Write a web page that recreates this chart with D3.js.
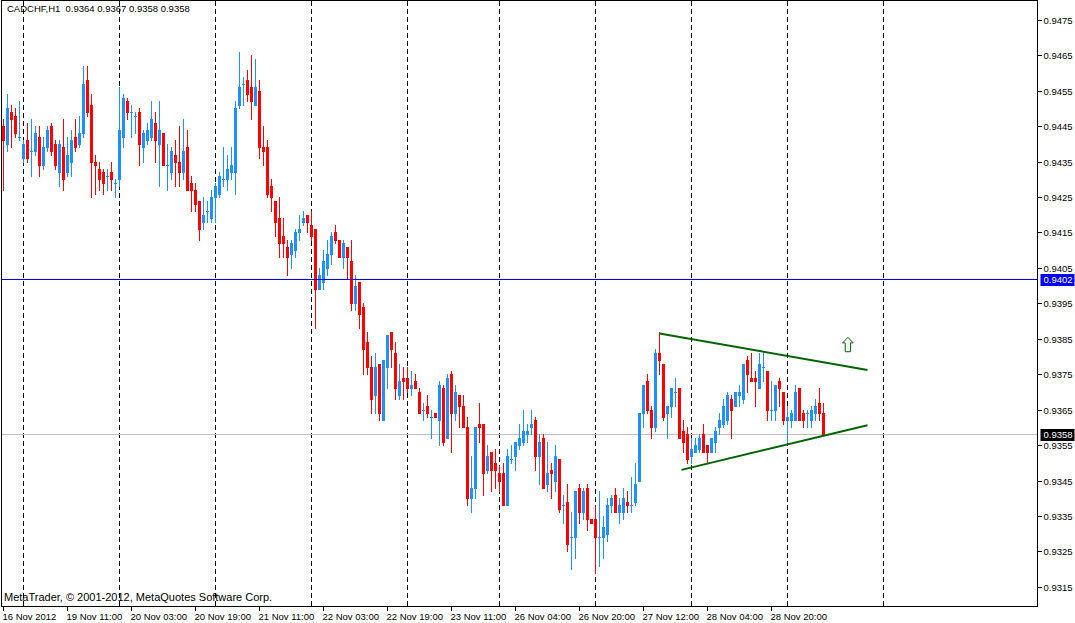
<!DOCTYPE html>
<html>
<head>
<meta charset="utf-8">
<script src="https://cdn.jsdelivr.net/npm/d3@7"></script>
<style>
  html, body { margin: 0; padding: 0; background: #fff; }
  svg { display: block; }
</style>
</head>
<body>
<svg id="chart" width="1075" height="623"></svg>
<script>
// Chart texts
const symbolTitle = "CADCHF,H1  0.9364 0.9367 0.9358 0.9358";
const copyright = "MetaTrader, \u00A9 2001-2012, MetaQuotes Software Corp.";

// Hourly bars (bar 0 = 16 Nov 2012 18:00)
const opens = [
  0.9445,0.9440,0.9449,0.9448,0.9442,0.9436,0.9441,0.9438,0.9438,0.9442,
  0.9434,0.9439,0.9445,0.9440,0.9432,0.9439,0.9432,0.9435,0.9442,0.9440,
  0.9443,0.9458,0.9451,0.9435,0.9433,0.9432,0.9431,0.9432,0.9429,0.9430,
  0.9442,0.9452,0.9449,0.9448,0.9449,0.9439,0.9441,0.9442,0.9446,0.9440,
  0.9443,0.9434,0.9432,0.9437,0.9435,0.9432,0.9439,0.9429,0.9427,0.9424,
  0.9418,0.9421,0.9419,0.9425,0.9426,0.9430,0.9430,0.9432,0.9432,0.9451,
  0.9457,0.9458,0.9456,0.9451,0.9455,0.9439,0.9439,0.9428,0.9424,0.9419,
  0.9414,0.9411,0.9409,0.9410,0.9415,0.9418,0.9420,0.9417,0.9416,0.9399,
  0.9401,0.9405,0.9409,0.9415,0.9413,0.9408,0.9411,0.9407,0.9395,0.9401,
  0.9394,0.9384,0.9377,0.9369,0.9378,0.9362,0.9377,0.9387,0.9381,0.9369,
  0.9374,0.9374,0.9371,0.9373,0.9370,0.9365,0.9366,0.9363,0.9364,0.9362,
  0.9371,0.9357,0.9375,0.9364,0.9369,0.9366,0.9360,0.9340,0.9343,0.9361,
  0.9361,0.9348,0.9353,0.9350,0.9347,0.9347,0.9338,0.9351,0.9352,0.9355,
  0.9356,0.9358,0.9360,0.9362,0.9352,0.9357,0.9344,0.9348,0.9345,0.9351,
  0.9338,0.9339,0.9329,0.9329,0.9343,0.9336,0.9343,0.9334,0.9334,0.9329,
  0.9329,0.9330,0.9338,0.9341,0.9336,0.9336,0.9339,0.9338,0.9339,0.9345,
  0.9364,0.9373,0.9365,0.9360,0.9381,0.9378,0.9364,0.9366,0.9370,0.9371,
  0.9359,0.9358,0.9352,0.9353,0.9354,0.9358,0.9355,0.9353,0.9356,0.9360,
  0.9361,0.9362,0.9368,0.9366,0.9369,0.9368,0.9379,0.9374,0.9374,0.9371,
  0.9377,0.9376,0.9365,0.9365,0.9373,0.9370,0.9362,0.9362,0.9362,0.9371,
  0.9364,0.9364,0.9362,0.9364,0.9367,0.9364
];
const highs = [
  0.9447,0.9454,0.9451,0.9450,0.9452,0.9441,0.9446,0.9447,0.9445,0.9445,
  0.9442,0.9445,0.9446,0.9441,0.9441,0.9447,0.9442,0.9444,0.9447,0.9448,
  0.9462,0.9462,0.9454,0.9437,0.9435,0.9433,0.9433,0.9435,0.9430,0.9456,
  0.9454,0.9453,0.9451,0.9449,0.9450,0.9444,0.9446,0.9452,0.9449,0.9452,
  0.9443,0.9440,0.9439,0.9441,0.9445,0.9447,0.9444,0.9431,0.9429,0.9424,
  0.9425,0.9424,0.9427,0.9429,0.9432,0.9439,0.9437,0.9439,0.9452,0.9466,
  0.9459,0.9461,0.9465,0.9464,0.9458,0.9445,0.9441,0.9430,0.9424,0.9425,
  0.9419,0.9413,0.9413,0.9416,0.9420,0.9421,0.9420,0.9421,0.9416,0.9405,
  0.9410,0.9413,0.9415,0.9417,0.9413,0.9413,0.9411,0.9413,0.9403,0.9401,
  0.9395,0.9387,0.9380,0.9381,0.9378,0.9379,0.9386,0.9387,0.9384,0.9378,
  0.9377,0.9377,0.9376,0.9375,0.9371,0.9367,0.9369,0.9365,0.9364,0.9373,
  0.9372,0.9375,0.9376,0.9372,0.9369,0.9369,0.9363,0.9352,0.9360,0.9367,
  0.9361,0.9355,0.9353,0.9354,0.9349,0.9350,0.9354,0.9355,0.9356,0.9361,
  0.9365,0.9361,0.9365,0.9363,0.9358,0.9358,0.9356,0.9350,0.9355,0.9351,
  0.9341,0.9344,0.9336,0.9342,0.9344,0.9343,0.9344,0.9334,0.9338,0.9342,
  0.9335,0.9340,0.9341,0.9343,0.9340,0.9343,0.9342,0.9346,0.9350,0.9364,
  0.9372,0.9375,0.9366,0.9382,0.9387,0.9378,0.9366,0.9371,0.9374,0.9371,
  0.9362,0.9360,0.9357,0.9357,0.9358,0.9361,0.9355,0.9357,0.9360,0.9364,
  0.9368,0.9370,0.9369,0.9370,0.9372,0.9378,0.9380,0.9381,0.9376,0.9381,
  0.9381,0.9376,0.9373,0.9372,0.9374,0.9370,0.9366,0.9365,0.9372,0.9371,
  0.9365,0.9365,0.9366,0.9368,0.9371,0.9367
];
const lows = [
  0.9427,0.9438,0.9439,0.9442,0.9441,0.9435,0.9435,0.9431,0.9437,0.9431,
  0.9433,0.9438,0.9437,0.9433,0.9428,0.9427,0.9431,0.9431,0.9438,0.9439,
  0.9442,0.9448,0.9425,0.9426,0.9427,0.9426,0.9427,0.9427,0.9425,0.9428,
  0.9439,0.9447,0.9442,0.9443,0.9434,0.9435,0.9440,0.9441,0.9435,0.9428,
  0.9434,0.9427,0.9430,0.9428,0.9428,0.9430,0.9427,0.9421,0.9421,0.9413,
  0.9416,0.9418,0.9418,0.9418,0.9425,0.9428,0.9427,0.9430,0.9426,0.9450,
  0.9451,0.9452,0.9447,0.9451,0.9436,0.9434,0.9425,0.9421,0.9414,0.9408,
  0.9408,0.9403,0.9405,0.9408,0.9413,0.9417,0.9415,0.9413,0.9388,0.9399,
  0.9399,0.9403,0.9406,0.9412,0.9408,0.9405,0.9402,0.9393,0.9393,0.9388,
  0.9375,0.9375,0.9364,0.9364,0.9362,0.9362,0.9371,0.9377,0.9368,0.9368,
  0.9368,0.9370,0.9369,0.9371,0.9364,0.9362,0.9363,0.9357,0.9363,0.9355,
  0.9355,0.9357,0.9353,0.9362,0.9360,0.9360,0.9338,0.9336,0.9340,0.9356,
  0.9341,0.9347,0.9342,0.9343,0.9342,0.9338,0.9338,0.9350,0.9348,0.9354,
  0.9355,0.9356,0.9358,0.9348,0.9344,0.9343,0.9342,0.9340,0.9342,0.9336,
  0.9333,0.9325,0.9320,0.9323,0.9333,0.9334,0.9331,0.9333,0.9319,0.9321,
  0.9323,0.9328,0.9336,0.9336,0.9333,0.9334,0.9336,0.9336,0.9338,0.9345,
  0.9360,0.9364,0.9357,0.9359,0.9375,0.9362,0.9357,0.9363,0.9366,0.9357,
  0.9353,0.9350,0.9350,0.9353,0.9353,0.9353,0.9350,0.9353,0.9353,0.9358,
  0.9360,0.9361,0.9357,0.9366,0.9366,0.9367,0.9370,0.9373,0.9366,0.9371,
  0.9373,0.9362,0.9362,0.9362,0.9366,0.9361,0.9356,0.9360,0.9362,0.9362,
  0.9360,0.9360,0.9360,0.9362,0.9362,0.9358
];
const closes = [
  0.9441,0.9450,0.9447,0.9443,0.9442,0.9440,0.9436,0.9438,0.9443,0.9434,
  0.9439,0.9444,0.9438,0.9434,0.9440,0.9430,0.9437,0.9441,0.9439,0.9443,
  0.9457,0.9449,0.9435,0.9434,0.9430,0.9429,0.9431,0.9430,0.9429,0.9444,
  0.9453,0.9449,0.9449,0.9448,0.9440,0.9443,0.9444,0.9447,0.9441,0.9444,
  0.9434,0.9434,0.9438,0.9435,0.9432,0.9438,0.9427,0.9427,0.9423,0.9416,
  0.9420,0.9421,0.9425,0.9428,0.9431,0.9430,0.9433,0.9434,0.9450,0.9456,
  0.9457,0.9454,0.9452,0.9456,0.9439,0.9438,0.9426,0.9425,0.9418,0.9412,
  0.9412,0.9408,0.9412,0.9415,0.9416,0.9419,0.9418,0.9414,0.9399,0.9403,
  0.9407,0.9409,0.9414,0.9413,0.9408,0.9412,0.9408,0.9395,0.9400,0.9392,
  0.9382,0.9377,0.9368,0.9377,0.9364,0.9379,0.9386,0.9382,0.9371,0.9373,
  0.9373,0.9371,0.9372,0.9371,0.9364,0.9365,0.9364,0.9363,0.9363,0.9372,
  0.9356,0.9374,0.9364,0.9370,0.9366,0.9360,0.9340,0.9343,0.9360,0.9360,
  0.9347,0.9352,0.9348,0.9348,0.9345,0.9338,0.9352,0.9351,0.9356,0.9357,
  0.9359,0.9359,0.9361,0.9352,0.9356,0.9343,0.9347,0.9347,0.9352,0.9337,
  0.9338,0.9327,0.9329,0.9342,0.9336,0.9342,0.9334,0.9333,0.9329,0.9329,
  0.9332,0.9338,0.9340,0.9336,0.9338,0.9340,0.9338,0.9338,0.9344,0.9364,
  0.9372,0.9365,0.9360,0.9381,0.9379,0.9363,0.9366,0.9371,0.9370,0.9357,
  0.9356,0.9351,0.9354,0.9355,0.9357,0.9353,0.9353,0.9357,0.9359,0.9362,
  0.9366,0.9369,0.9365,0.9370,0.9370,0.9378,0.9375,0.9373,0.9373,0.9378,
  0.9377,0.9365,0.9365,0.9372,0.9371,0.9362,0.9363,0.9364,0.9370,0.9362,
  0.9362,0.9364,0.9365,0.9366,0.9364,0.9358
];

// Day separators (first bar of each day)
const separatorBars = [5, 29, 53, 77, 101, 124, 148, 172, 196, 220];

// Time axis labels
const timeLabelBars = [0, 16, 32, 48, 64, 80, 96, 112, 128, 144, 160, 176, 192];
const timeLabels = ["16 Nov 2012", "19 Nov 11:00", "20 Nov 03:00", "20 Nov 19:00",
  "21 Nov 11:00", "22 Nov 03:00", "22 Nov 19:00", "23 Nov 11:00", "26 Nov 04:00",
  "26 Nov 20:00", "27 Nov 12:00", "28 Nov 04:00", "28 Nov 20:00"];

// Price axis labels
const priceTicks = [0.9475, 0.9465, 0.9455, 0.9445, 0.9435, 0.9425, 0.9415, 0.9405,
  0.9395, 0.9385, 0.9375, 0.9365, 0.9355, 0.9345, 0.9335, 0.9325, 0.9315];

// Objects on the chart
const hLinePrice = 0.9402;
const bidPrice = 0.9358;
const upperTrend = [[164, 0.93865], [216, 0.93762]];
const lowerTrend = [[169.5, 0.9348], [216, 0.93606]];
const arrowAt = [211.1, 0.93854];

// Layout
const W = 1075, H = 623;
const frameLeft = 1.5, frameRight = 1037.5, frameTop = 0.5, frameBottom = 606.5;
const bullColor = "#1e90ff", bearColor = "#ff0000";
const trendColor = "#006400";
const font = "'Liberation Sans', Arial, sans-serif";
const fontSize = 9.5;

const svg = d3.select("#chart");

// bars are 4px apart
const x = d3.scaleLinear().domain([0, 100]).range([3.5, 403.5]);
const y = d3.scaleLinear().domain([0.9315, 0.9475]).range([586.8, 19.9]);
const py = v => Math.round(y(v));

svg.append("rect").attr("width", W).attr("height", H).attr("fill", "#fff");

// Day separators --------
svg.append("g")
  .selectAll("line")
  .data(separatorBars)
  .join("line")
  .attr("x1", d => x(d)).attr("x2", d => x(d))
  .attr("y1", frameTop).attr("y2", frameBottom)
  .attr("stroke", "#000")
  .attr("stroke-dasharray", "5,3")
  .attr("shape-rendering", "crispEdges");

// Bid line (behind bars)
svg.append("line")
  .attr("x1", frameLeft).attr("x2", frameRight)
  .attr("y1", py(bidPrice) + 0.5).attr("y2", py(bidPrice) + 0.5)
  .attr("stroke", "#c0c0c0")
  .attr("shape-rendering", "crispEdges");

// Candles --------
const bars = opens.map((o, i) => ({ i, o, h: highs[i], l: lows[i], c: closes[i] }));
const candles = svg.append("g").attr("shape-rendering", "crispEdges");

candles.selectAll("line")
  .data(bars)
  .join("line")
  .attr("x1", d => x(d.i)).attr("x2", d => x(d.i))
  .attr("y1", d => py(d.h)).attr("y2", d => py(d.l) + 1)
  .attr("stroke", d => d.c >= d.o ? bullColor : bearColor);

candles.selectAll("rect")
  .data(bars)
  .join("rect")
  .attr("x", d => x(d.i) - 1.5)
  .attr("width", 3)
  .attr("y", d => py(Math.max(d.o, d.c)))
  .attr("height", d => Math.max(1, py(Math.min(d.o, d.c)) - py(Math.max(d.o, d.c)) + 1))
  .attr("fill", d => d.c >= d.o ? bullColor : bearColor);

// Horizontal line object
svg.append("line")
  .attr("x1", frameLeft).attr("x2", frameRight)
  .attr("y1", py(hLinePrice) + 0.5).attr("y2", py(hLinePrice) + 0.5)
  .attr("stroke", "#0000e6")
  .attr("shape-rendering", "crispEdges");

// Trend lines
[upperTrend, lowerTrend].forEach(t => {
  svg.append("line")
    .attr("x1", x(t[0][0])).attr("y1", y(t[0][1]))
    .attr("x2", x(t[1][0])).attr("y2", y(t[1][1]))
    .attr("stroke", trendColor)
    .attr("stroke-width", 2);
});

// Up arrow (outline)
const ax = x(arrowAt[0]), ay = y(arrowAt[1]);
const arrowPts = [[0, 0], [5.3, 5.5], [2.7, 5.5], [2.7, 14.4], [-2.7, 14.4], [-2.7, 5.5], [-5.3, 5.5]];
svg.append("path")
  .attr("d", d3.line()(arrowPts.map(p => [ax + p[0], ay + p[1]])) + "Z")
  .attr("fill", "#fff")
  .attr("stroke", trendColor)
  .attr("stroke-width", 1);

// Frame
svg.append("rect")
  .attr("x", frameLeft).attr("y", frameTop)
  .attr("width", frameRight - frameLeft).attr("height", frameBottom - frameTop)
  .attr("fill", "none")
  .attr("stroke", "#000")
  .attr("shape-rendering", "crispEdges");

// Price axis --------
const pAxis = svg.append("g");
pAxis.selectAll("line")
  .data(priceTicks)
  .join("line")
  .attr("x1", frameRight).attr("x2", frameRight + 4)
  .attr("y1", d => py(d) + 0.5).attr("y2", d => py(d) + 0.5)
  .attr("stroke", "#000")
  .attr("shape-rendering", "crispEdges");
pAxis.selectAll("text")
  .data(priceTicks)
  .join("text")
  .attr("x", frameRight + 6)
  .attr("y", d => py(d) + 0.5)
  .attr("dy", "0.35em")
  .attr("font-family", font)
  .attr("font-size", fontSize)
  .attr("fill", "#000")
  .text(d => d.toFixed(4));

// Price tags for the line object and bid
[[hLinePrice, "#0000ff"], [bidPrice, "#000"]].forEach(([p, bg]) => {
  svg.append("rect")
    .attr("x", frameRight + 3).attr("y", py(p) - 5)
    .attr("width", 34).attr("height", 12)
    .attr("fill", bg);
  svg.append("text")
    .attr("x", frameRight + 6).attr("y", py(p) + 0.5)
    .attr("dy", "0.35em")
    .attr("font-family", font)
    .attr("font-size", fontSize)
    .attr("fill", "#fff")
    .text(p.toFixed(4));
});

// Time axis --------
const tAxis = svg.append("g");
tAxis.selectAll("line")
  .data(timeLabelBars)
  .join("line")
  .attr("x1", d => x(d)).attr("x2", d => x(d))
  .attr("y1", frameBottom).attr("y2", frameBottom + 4)
  .attr("stroke", "#000")
  .attr("shape-rendering", "crispEdges");
tAxis.selectAll("text")
  .data(timeLabelBars)
  .join("text")
  .attr("x", d => x(d) - 1)
  .attr("y", 620)
  .attr("font-family", font)
  .attr("font-size", fontSize)
  .attr("fill", "#000")
  .text((d, k) => timeLabels[k]);

// Title and copyright
svg.append("text")
  .attr("x", 7).attr("y", 12)
  .attr("font-family", font)
  .attr("font-size", fontSize)
  .style("white-space", "pre")
  .attr("fill", "#000")
  .text(symbolTitle);

// the copyright line is set in a slightly bigger font than the axes
svg.append("text")
  .attr("x", 4).attr("y", 601)
  .attr("font-family", font)
  .attr("font-size", 11)
  .attr("fill", "#000")
  .text(copyright);
</script>
</body>
</html>
